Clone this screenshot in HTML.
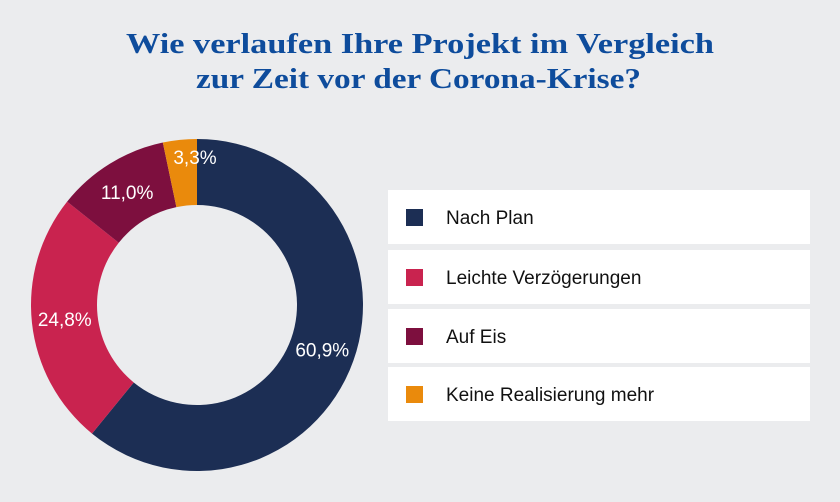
<!DOCTYPE html>
<html><head><meta charset="utf-8"><style>
body{margin:0;background:#ebecee;}
svg{display:block;font-family:"Liberation Sans",sans-serif;}
</style></head><body>
<svg width="840" height="502" viewBox="0 0 840 502">
<rect width="840" height="502" fill="#ebecee"/>
<g fill="#0e4c9c" font-weight="bold" font-family="'Liberation Serif',serif">
<text x="126" y="53" font-size="28" textLength="588" lengthAdjust="spacingAndGlyphs">Wie verlaufen Ihre Projekt im Vergleich</text>
<text x="196" y="88" font-size="28" textLength="445" lengthAdjust="spacingAndGlyphs">zur Zeit vor der Corona-Krise?</text>
</g>
<g id="slices"></g>
<g id="labels"></g>
<g id="legend"></g>
</svg>
<script>
const categories=["Nach Plan","Leichte Verzögerungen","Auf Eis","Keine Realisierung mehr"];
const values=[60.9,24.8,11.0,3.3];
const valueLabels=["60,9%","24,8%","11,0%","3,3%"];
const colors=["#1c2e54","#c9234f","#7d0f3e","#ea8a0c"];
const NS="http://www.w3.org/2000/svg";
const cx=197,cy=305,R=166,r=100;
const total=values.reduce((a,b)=>a+b,0);
function pt(rad,frac){const a=frac*2*Math.PI;return [cx+rad*Math.sin(a),cy-rad*Math.cos(a)];}
let acc=0;
const sg=document.getElementById('slices'),lg=document.getElementById('labels'),leg=document.getElementById('legend');
values.forEach((v,i)=>{
 const f0=acc/total,f1=(acc+v)/total;acc+=v;
 const [x0,y0]=pt(R,f0),[x1,y1]=pt(R,f1),[x2,y2]=pt(r,f1),[x3,y3]=pt(r,f0);
 const large=(f1-f0)>0.5?1:0;
 const p=document.createElementNS(NS,'path');
 p.setAttribute('d',`M${x0},${y0}A${R},${R} 0 ${large} 1 ${x1},${y1}L${x2},${y2}A${r},${r} 0 ${large} 0 ${x3},${y3}Z`);
 p.setAttribute('fill',colors[i]);
 
 
 sg.appendChild(p);
 const fm=(f0+f1)/2;
 const [lx0,ly]=pt((R+r)/2+(f1-f0<0.05?16:0),fm);
 const lx=f1-f0<0.05?cx-2:lx0;
 const t=document.createElementNS(NS,'text');
 t.setAttribute('x',lx);t.setAttribute('y',ly+7);
 t.setAttribute('text-anchor','middle');t.setAttribute('fill','#fff');t.setAttribute('font-size','19');
 t.textContent=valueLabels[i];
 
 
 lg.appendChild(t);
 const ys=[190,250,309,367][i];
 const g=document.createElementNS(NS,'g');
 
 
 const b=document.createElementNS(NS,'rect');
 b.setAttribute('x',388);b.setAttribute('y',ys);b.setAttribute('width',422);b.setAttribute('height',54);b.setAttribute('fill','#fff');
 
 
 const s=document.createElementNS(NS,'rect');
 s.setAttribute('x',406);s.setAttribute('y',ys+19);s.setAttribute('width',17);s.setAttribute('height',17);s.setAttribute('fill',colors[i]);
 
 
 const lt=document.createElementNS(NS,'text');
 lt.setAttribute('x',446);lt.setAttribute('y',ys+34);lt.setAttribute('font-size','19');lt.setAttribute('fill','#111');
 lt.textContent=categories[i];
 
 
 g.appendChild(b);g.appendChild(s);g.appendChild(lt);leg.appendChild(g);
});
</script>
</body></html>
